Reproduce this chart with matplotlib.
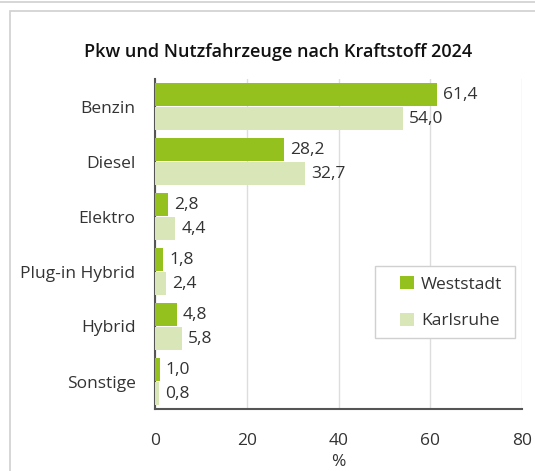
import numpy as np
import matplotlib.pyplot as plt
from matplotlib.patches import Rectangle

# Daten
kategorien = ["Benzin", "Diesel", "Elektro", "Plug-in Hybrid", "Hybrid", "Sonstige"]
weststadt = [61.4, 28.2, 2.8, 1.8, 4.8, 1.0]
karlsruhe = [54.0, 32.7, 4.4, 2.4, 5.8, 0.8]
xticks = [0, 20, 40, 60, 80]

plt.rcParams["font.family"] = ["Open Sans", "DejaVu Sans"]
txt = "#333333"

fig = plt.figure(figsize=(5.35, 4.71), dpi=100)
ax = fig.add_axes([155 / 535, 1 - 409 / 471, (522 - 155) / 535, (409 - 79) / 471])

# Rahmen des Panels
fig.patches.append(Rectangle((10 / 535, -0.1), 1.2, 1 - 11 / 471 + 0.1, transform=fig.transFigure,
                             fill=False, edgecolor="#d0d0d0", linewidth=1.2))
fig.patches.append(Rectangle((-0.1, 1 - 2 / 471), 1.2, 0.1, transform=fig.transFigure,
                             fill=False, edgecolor="#d0d0d0", linewidth=1.2))

y = np.arange(len(kategorien))
h = 0.42
ax.barh(y - h / 2 - 0.01, weststadt, height=h, color="#95c11f", label="Weststadt", zorder=3)
ax.barh(y + h / 2 + 0.01, karlsruhe, height=h, color="#d9e6b8", label="Karlsruhe", zorder=3)

for i in range(len(kategorien)):
    ax.text(weststadt[i] + 1.3, y[i] - h / 2, f"{weststadt[i]:.1f}".replace(".", ","),
            va="center", ha="left", fontsize=12.5, color=txt)
    ax.text(karlsruhe[i] + 1.3, y[i] + h / 2 + 0.02, f"{karlsruhe[i]:.1f}".replace(".", ","),
            va="center", ha="left", fontsize=12.5, color=txt)

ax.set_ylim(len(kategorien) - 0.5, -0.5)
ax.set_xlim(0, 80)
ax.set_xticks(xticks)
ax.set_yticks(y)
ax.set_yticklabels(kategorien)
ax.tick_params(axis="both", length=0, labelsize=12.5, labelcolor=txt)
ax.tick_params(axis="x", pad=17)
ax.tick_params(axis="y", pad=14)
ax.grid(axis="x", color="#dddddd", linewidth=1, zorder=0)
for s in ["top", "right"]:
    ax.spines[s].set_visible(False)
for s in ["left", "bottom"]:
    ax.spines[s].set_color("#555555")
    ax.spines[s].set_linewidth(1.5)
ax.set_xlabel("%", fontsize=12.5, color=txt, labelpad=4)

ax.set_title("Pkw und Nutzfahrzeuge nach Kraftstoff 2024", fontsize=13, fontweight="semibold",
             color="#111111", x=(278 - 155) / (522 - 155), pad=16)

# Legende mit eigenem Rahmen
aw, ah = 367, 330
ax.add_patch(Rectangle(((375 - 155) / aw, 1 - (338 - 79) / ah), 140 / aw, 72 / ah,
                       transform=ax.transAxes, facecolor="white", edgecolor="#d0d0d0",
                       linewidth=1, zorder=4))
leg = ax.legend(loc="upper left", bbox_to_anchor=((400 - 155) / aw, 1 - (276 - 79) / ah),
                fontsize=12.5, frameon=False, handlelength=0.8, handleheight=0.8,
                borderpad=0, labelspacing=1.15, handletextpad=0.4, borderaxespad=0)
leg.set_zorder(5)
for t in leg.get_texts():
    t.set_color(txt)

fig.savefig("out.png", dpi=100)
